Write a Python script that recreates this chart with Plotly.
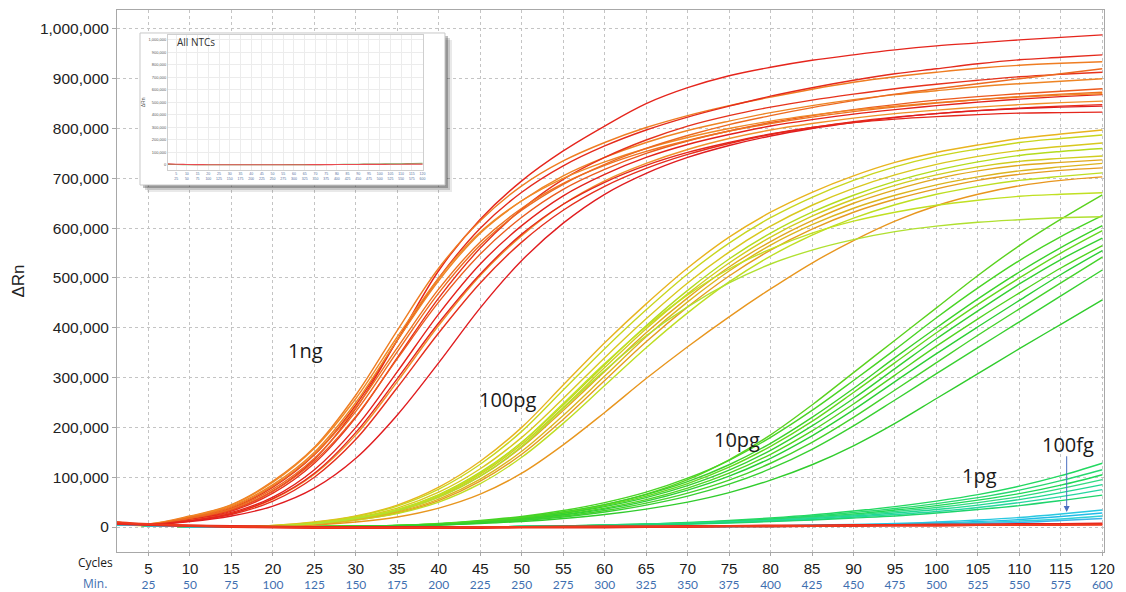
import plotly.graph_objects as go

# ---------------- data (values in thousands of ΔRn) ----------------
cycles = [1, 5, 10, 15, 20, 25, 30, 35, 40, 45, 50, 55, 60, 65, 70, 75, 80, 85, 90, 95, 100, 105, 110, 115, 120]
tick_cycles = [5, 10, 15, 20, 25, 30, 35, 40, 45, 50, 55, 60, 65, 70, 75, 80, 85, 90, 95, 100, 105, 110, 115, 120]
tick_minutes = [25, 50, 75, 100, 125, 150, 175, 200, 225, 250, 275, 300, 325, 350, 375, 400, 425, 450, 475, 500, 525, 550, 575, 600]
y_ticks = [0, 100000, 200000, 300000, 400000, 500000, 600000, 700000, 800000, 900000, 1000000]

ng1_curves = [
    [9, 5, 16, 34, 72, 136, 238, 375, 515, 618, 695, 755, 805, 850, 882, 906, 923, 937, 948, 958, 966, 972, 978, 983, 988],
    [10, 6, 22, 45, 92, 160, 265, 395, 520, 615, 685, 735, 772, 802, 826, 846, 863, 879, 893, 904, 913, 921, 927, 931, 934],
    [8, 5, 18, 38, 80, 145, 245, 375, 500, 600, 672, 725, 765, 797, 823, 845, 865, 882, 897, 910, 920, 930, 938, 943, 948],
    [9, 5, 20, 42, 85, 150, 250, 375, 495, 590, 655, 705, 742, 772, 796, 815, 832, 846, 858, 868, 876, 884, 890, 895, 900],
    [8, 5, 15, 32, 68, 128, 220, 340, 460, 560, 638, 698, 742, 777, 805, 826, 843, 857, 869, 880, 889, 897, 904, 909, 913],
    [10, 6, 17, 35, 72, 132, 222, 338, 452, 548, 622, 678, 718, 750, 775, 795, 812, 826, 838, 848, 857, 864, 870, 875, 880],
    [8, 5, 14, 29, 60, 115, 200, 312, 428, 528, 605, 665, 708, 742, 768, 788, 805, 818, 829, 838, 846, 853, 859, 864, 868],
    [9, 5, 13, 27, 56, 106, 185, 292, 405, 505, 585, 648, 695, 730, 758, 780, 797, 810, 821, 830, 837, 843, 848, 852, 855],
    [8, 5, 12, 25, 52, 100, 176, 280, 390, 490, 572, 636, 684, 720, 748, 770, 788, 802, 814, 823, 830, 836, 841, 845, 848],
    [8, 5, 11, 22, 42, 78, 138, 225, 330, 440, 535, 610, 668, 710, 742, 766, 785, 800, 812, 822, 830, 836, 840, 843, 845],
    [10, 6, 21, 44, 90, 158, 258, 382, 500, 592, 655, 700, 733, 760, 782, 800, 815, 827, 837, 845, 852, 858, 863, 867, 870],
    [9, 5, 19, 40, 82, 146, 240, 360, 478, 572, 640, 690, 726, 754, 776, 795, 810, 823, 834, 843, 851, 858, 864, 869, 873],
    [9, 5, 18, 37, 76, 138, 232, 352, 470, 566, 636, 688, 728, 760, 786, 808, 826, 842, 856, 869, 880, 890, 900, 910, 920],
    [8, 5, 13, 27, 57, 108, 190, 298, 410, 508, 588, 648, 692, 726, 752, 772, 789, 802, 812, 819, 824, 828, 831, 832, 833],
]
ng1_colors = ["#e5251c", "#ef7d22", "#e42a1c", "#ee8424", "#e6321c", "#ec5a1e", "#e3221b",
              "#f0902a", "#e52e1c", "#e01c1f", "#f08826", "#ee7220", "#ec6a20", "#e4261c"]

pg100_curves = [
    [5, 3, 1, 1, 3, 10, 22, 44, 80, 132, 200, 285, 370, 448, 520, 582, 632, 672, 705, 732, 752, 767, 780, 789, 797],
    [5, 3, 1, 1, 3, 9, 21, 42, 76, 126, 192, 275, 358, 436, 508, 570, 621, 662, 696, 723, 744, 759, 772, 780, 787],
    [4, 3, 1, 0, 2, 8, 19, 38, 70, 117, 180, 258, 340, 418, 490, 552, 604, 646, 680, 707, 728, 744, 756, 764, 771],
    [5, 3, 1, 0, 2, 7, 18, 35, 65, 110, 170, 245, 326, 404, 475, 538, 590, 632, 666, 694, 716, 733, 746, 754, 760],
    [5, 3, 1, 0, 2, 7, 16, 32, 60, 102, 160, 234, 312, 390, 460, 522, 573, 615, 650, 677, 699, 715, 726, 732, 737],
    [4, 3, 1, 0, 2, 7, 17, 34, 62, 106, 166, 240, 320, 398, 468, 530, 582, 624, 658, 686, 707, 723, 734, 740, 745],
    [5, 3, 1, 0, 1, 6, 14, 28, 53, 92, 146, 216, 294, 372, 442, 504, 556, 598, 632, 658, 679, 696, 708, 716, 721],
    [5, 3, 1, 0, 1, 6, 14, 27, 50, 87, 140, 208, 284, 360, 430, 492, 544, 586, 620, 647, 668, 684, 696, 704, 711],
    [4, 3, 1, 0, 1, 6, 15, 30, 56, 96, 152, 224, 303, 382, 452, 514, 566, 607, 640, 666, 687, 703, 715, 723, 730],
    [5, 3, 1, 0, 1, 4, 10, 20, 38, 66, 108, 165, 230, 298, 362, 422, 478, 530, 575, 614, 645, 668, 685, 696, 703],
    [5, 3, 1, 0, 2, 7, 18, 35, 64, 108, 170, 248, 328, 402, 466, 518, 558, 590, 614, 632, 646, 656, 664, 668, 671],
    [5, 3, 1, 0, 2, 7, 17, 33, 60, 102, 162, 238, 314, 384, 442, 490, 528, 556, 577, 593, 604, 612, 617, 621, 623],
]
pg100_colors = ["#e8b41e", "#c8d61e", "#d8c81e", "#b4dc1e", "#e0a81e", "#d0cc1e",
                "#e49c20", "#bede22", "#dcb41e", "#e8961e", "#c0e022", "#b0e030"]

pg10_curves = [
    [5, 3, 1, 0, 0, 1, 2, 3, 6, 11, 19, 30, 45, 66, 95, 135, 185, 245, 310, 375, 440, 505, 565, 618, 667],
    [5, 3, 1, 0, 0, 1, 2, 3, 7, 13, 21, 33, 49, 70, 98, 134, 180, 234, 294, 356, 420, 480, 535, 583, 625],
    [5, 3, 1, 0, 0, 1, 2, 3, 6, 12, 19, 30, 45, 65, 91, 125, 168, 220, 278, 340, 400, 458, 512, 561, 605],
    [5, 3, 1, 0, 0, 1, 2, 3, 6, 11, 18, 28, 43, 62, 87, 120, 162, 212, 270, 330, 390, 447, 500, 550, 595],
    [5, 3, 1, 0, 0, 1, 1, 3, 5, 10, 17, 27, 41, 59, 83, 114, 154, 203, 258, 318, 378, 434, 488, 537, 580],
    [5, 3, 1, 0, 0, 0, 1, 2, 5, 10, 16, 25, 38, 55, 78, 108, 146, 193, 247, 305, 363, 418, 470, 520, 565],
    [5, 3, 1, 0, 0, 0, 1, 2, 5, 9, 15, 24, 36, 52, 74, 102, 138, 183, 235, 292, 348, 402, 455, 507, 555],
    [5, 3, 1, 0, 0, 0, 1, 2, 5, 9, 14, 22, 33, 48, 68, 94, 128, 170, 220, 275, 330, 385, 438, 490, 542],
    [5, 3, 1, 0, 0, 0, 1, 2, 4, 8, 13, 20, 30, 44, 62, 86, 117, 156, 203, 255, 308, 360, 412, 464, 516],
    [5, 3, 1, 0, 0, 0, 1, 2, 4, 7, 11, 17, 25, 36, 50, 69, 94, 125, 163, 208, 258, 308, 358, 407, 456],
]
pg10_colors = ["#5ad21e", "#48d424", "#3cd22a", "#62d81e", "#34d030",
               "#50d420", "#2ccf34", "#44d22a", "#38d030", "#30cc2c"]

pg1_curves = [
    [5, 3, 1, 0, 0, 0, 0, 0, 0, 0, 1, 2, 4, 6, 9, 13, 18, 24, 32, 41, 52, 65, 82, 103, 128],
    [5, 3, 1, 0, 0, 0, 0, 0, 0, 0, 1, 2, 4, 6, 8, 12, 16, 22, 29, 37, 47, 59, 74, 93, 115],
    [5, 3, 1, 0, 0, 0, 0, 0, 0, 0, 1, 2, 3, 5, 8, 11, 15, 20, 26, 34, 43, 54, 67, 84, 105],
    [5, 3, 1, 0, 0, 0, 0, 0, 0, 0, 1, 2, 3, 5, 7, 10, 14, 19, 24, 31, 39, 49, 61, 77, 95],
    [5, 3, 1, 0, 0, 0, 0, 0, 0, 0, 1, 2, 3, 5, 7, 10, 13, 17, 22, 28, 35, 44, 55, 69, 85],
    [5, 3, 1, 0, 0, 0, 0, 0, 0, 0, 1, 1, 3, 4, 6, 9, 12, 15, 20, 25, 31, 39, 49, 61, 75],
    [5, 3, 1, 0, 0, 0, 0, 0, 0, 0, 1, 1, 3, 4, 6, 8, 11, 14, 18, 22, 28, 35, 43, 53, 64],
]
pg1_colors = ["#22d860", "#28d870", "#1ed858", "#30da80", "#20d890", "#26d6a0", "#1ed46c"]

fg100_curves = [
    [5, 3, 1, 0, 0, 0, 0, 0, 0, 0, 0, 0, 0, 1, 1, 1, 2, 4, 5, 7, 10, 14, 19, 26, 34],
    [5, 3, 1, 0, 0, 0, 0, 0, 0, 0, 0, 0, 0, 0, 1, 1, 2, 3, 4, 6, 8, 11, 15, 21, 28],
    [5, 3, 1, 0, 0, 0, 0, 0, 0, 0, 0, 0, 0, 0, 1, 1, 1, 2, 3, 5, 6, 9, 12, 16, 22],
    [5, 3, 1, 0, 0, 0, 0, 0, 0, 0, 0, 0, 0, 0, 0, 1, 1, 2, 3, 4, 5, 7, 9, 13, 17],
]
fg100_colors = ["#28c8e0", "#20bce8", "#30d0d8", "#3cb4e8"]

ntc_curves = [
    [8, 5, 3, 2, 1, 0, 0, 0, 0, 0, 0, 1, 1, 1, 2, 2, 3, 3, 4, 4, 5, 5, 6, 6, 7],
    [6, 4, 2, 0, -1, -2, -2, -2, -2, -2, -1, -1, -1, 0, 0, 1, 1, 2, 2, 3, 3, 4, 4, 5, 5],
    [10, 6, 3, 1, 0, -1, -1, -1, -1, 0, 0, 0, 1, 1, 1, 2, 2, 2, 3, 3, 3, 4, 4, 4, 5],
]
ntc_colors = ["#e41a1c", "#e8281e", "#ee3a1e"]

inset_ntc_green = [4, 3, 2, 1, 1, 1, 1, 1, 1, 1, 1, 1, 2, 2, 2, 3, 3, 4, 5, 6, 7, 8, 9, 11, 13]
inset_ntc_red = [8, 5, 3, 2, 1, 1, 1, 1, 1, 1, 1, 1, 1, 1, 2, 2, 3, 3, 3, 4, 4, 5, 5, 6, 6]

# ---------------- figure ----------------
fig = go.Figure()

def add_group(curves, colors, width=1.4, xa="x", ya="y"):
    for vals, col in zip(curves, colors):
        fig.add_trace(go.Scatter(
            x=cycles, y=[v * 1000 for v in vals], mode="lines",
            line=dict(color=col, width=width, shape="spline", smoothing=1.0),
            xaxis=xa, yaxis=ya, hoverinfo="skip", showlegend=False))

add_group(pg10_curves, pg10_colors)
add_group(pg100_curves, pg100_colors)
add_group(ng1_curves, ng1_colors)
add_group(pg1_curves, pg1_colors)
add_group(fg100_curves, fg100_colors)
add_group(ntc_curves, ntc_colors, width=2.0)

# empty trace establishing the white inset box subplot
fig.add_trace(go.Scatter(x=[], y=[], xaxis="x2", yaxis="y2", showlegend=False))
# inset: All NTCs
add_group([inset_ntc_green], ["#6cc86c"], width=1.2, xa="x3", ya="y3")
add_group([inset_ntc_red], ["#e84a50"], width=1.2, xa="x3", ya="y3")
# empty trace for the minutes axis
fig.add_trace(go.Scatter(x=[], y=[], xaxis="x4", yaxis="y", showlegend=False))

FONT = "Liberation Sans, Arial, sans-serif"
GRID = "#c4c4c4"
XR = [1.2, 120.2]

fig.update_layout(
    width=1126, height=592,
    margin=dict(l=117, r=22, t=10, b=40),
    paper_bgcolor="white", plot_bgcolor="white",
    showlegend=False,
    font=dict(family=FONT, color="#222"),
    xaxis=dict(
        domain=[0, 1], range=XR, tickvals=tick_cycles, ticktext=[str(c) for c in tick_cycles],
        showgrid=True, gridcolor=GRID, griddash="3px,3px", gridwidth=1,
        showline=True, linecolor="#a8a8a8", mirror=True, zeroline=False,
        ticks="outside", ticklen=3, tickcolor="#a8a8a8", ticklabelstandoff=0,
        tickfont=dict(size=15, color="#1a1a1a", family=FONT), automargin=False,
    ),
    yaxis=dict(
        domain=[0, 1], range=[-50200, 1038000], tickvals=y_ticks, tickformat=",",
        showgrid=True, gridcolor=GRID, griddash="3px,3px", gridwidth=1,
        showline=True, linecolor="#a8a8a8", mirror=True, zeroline=False,
        ticks="outside", ticklen=4, tickcolor="#a8a8a8", automargin=False,
        tickfont=dict(size=15.5, color="#222", family=FONT),
        title=dict(text="ΔRn", font=dict(size=17, color="#222"), standoff=10),
    ),
    xaxis4=dict(
        overlaying="x", anchor="y", side="bottom", range=XR,
        tickvals=tick_cycles, ticktext=[str(m) for m in tick_minutes],
        showgrid=False, showline=False, zeroline=False, ticks="",
        ticklabelstandoff=24, automargin=False,
        tickfont=dict(size=12, color="#3f6fb0", family="Lato, sans-serif"),
    ),
    xaxis2=dict(domain=[0.0233, 0.3323], anchor="y2", visible=False, range=[0, 1]),
    yaxis2=dict(domain=[0.6771, 0.9576], anchor="x2", visible=False, range=[0, 1]),
    xaxis3=dict(
        domain=[0.0517, 0.310], anchor="y3", range=XR, tickvals=tick_cycles,
        ticktext=[f"{c}<br>{m}" for c, m in zip(tick_cycles, tick_minutes)],
        showgrid=True, gridcolor="#ececec", showline=True, linecolor="#cfcfcf", mirror=True,
        zeroline=False, ticks="", tickangle=0, automargin=False,
        tickfont=dict(size=3.5, color="#5570a0"),
    ),
    yaxis3=dict(
        domain=[0.705, 0.954], anchor="x3", range=[-40000, 1040000], tickvals=y_ticks, tickformat=",",
        showgrid=True, gridcolor="#ececec", showline=True, linecolor="#cfcfcf", mirror=True,
        zeroline=False, ticks="", tickfont=dict(size=4, color="#555"), automargin=False,
        title=dict(text="ΔRn", font=dict(size=5, color="#555"), standoff=2),
    ),
)

# inset box shadow and border (paper coords)
shapes = []
for off, op in [(7, 0.10), (5, 0.18), (3, 0.30)]:
    dx = off / 987
    dy = off / 542
    shapes.append(dict(type="rect", xref="paper", yref="paper", layer="above",
                       x0=0.3323, x1=0.3323 + dx, y0=0.6771 - dy, y1=0.9576 - dy,
                       line=dict(width=0), fillcolor=f"rgba(40,40,40,{op})"))
    shapes.append(dict(type="rect", xref="paper", yref="paper", layer="above",
                       x0=0.0233 + dx, x1=0.3323, y0=0.6771 - dy, y1=0.6771,
                       line=dict(width=0), fillcolor=f"rgba(40,40,40,{op})"))
shapes.append(dict(type="rect", xref="paper", yref="paper", layer="above",
                   x0=0.0233, x1=0.3323, y0=0.6771, y1=0.9576,
                   line=dict(color="#c8c8c8", width=1), fillcolor="rgba(0,0,0,0)"))
fig.update_layout(shapes=shapes)

label_font = dict(family="Open Sans, sans-serif", size=20, color="#1a1a1a")
annotations = [
    dict(x=23.9, y=355000, text="1ng", showarrow=False, font=label_font),
    dict(x=48.3, y=255000, text="100pg", showarrow=False, font=label_font),
    dict(x=76.0, y=175000, text="10pg", showarrow=False, font=label_font),
    dict(x=105.2, y=104000, text="1pg", showarrow=False, font=label_font),
    dict(x=115.8, y=165000, text="100fg", showarrow=False, font=label_font),
    dict(x=115.7, y=30000, ax=115.7, ay=145000, axref="x", ayref="y", text="",
         showarrow=True, arrowhead=2, arrowsize=1.2, arrowwidth=1, arrowcolor="#4a6fc0"),
    dict(xref="paper", yref="paper", x=-0.0213, y=-0.0185, text="Cycles", showarrow=False,
         font=dict(size=12, color="#1a1a1a", family="Open Sans, sans-serif"), xanchor="center", yanchor="middle"),
    dict(xref="paper", yref="paper", x=-0.0223, y=-0.058, text="Min.", showarrow=False,
         font=dict(size=12, color="#3f6fb0", family="Open Sans, sans-serif"), xanchor="center", yanchor="middle"),
    dict(xref="paper", yref="paper", x=0.0588, y=0.941, text="All NTCs", showarrow=False,
         font=dict(size=10, color="#333", family="Open Sans, sans-serif"), xanchor="left", yanchor="middle"),
]
fig.update_layout(annotations=annotations)

fig.write_html("out.html", config={"displayModeBar": False},
               post_script="document.body.style.margin='0';document.body.style.overflow='hidden';")
